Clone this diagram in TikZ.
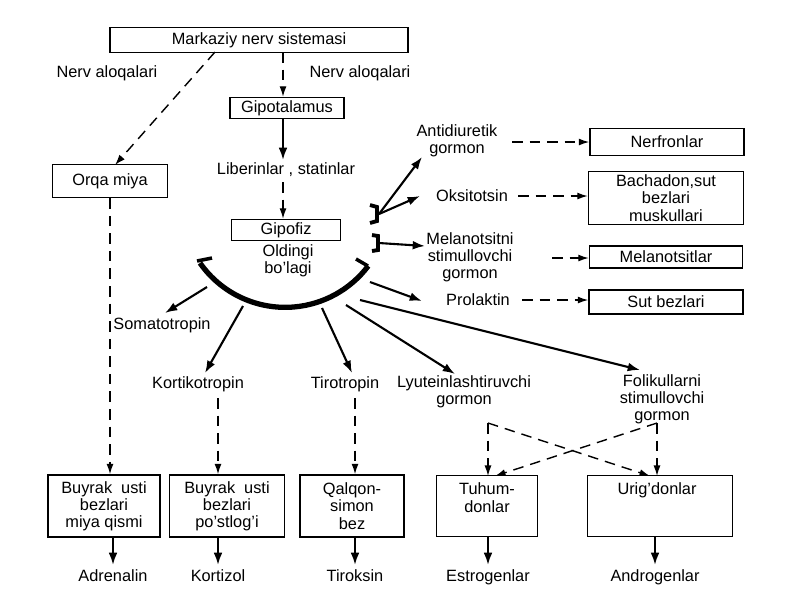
\documentclass[tikz,border=0pt]{standalone}
\usepackage{fontspec}
\setmainfont{Liberation Sans}
\usetikzlibrary{arrows.meta}
\begin{document}
\begin{tikzpicture}[x=0.02cm,y=-0.02cm,
  every node/.style={font=\fontsize{9.3}{9.8}\selectfont, align=center, inner sep=1pt},
  box/.style={draw, line width=0.8pt, inner sep=0pt},
  sarr/.style={line width=1.2pt, -{Latex[length=7pt,width=5pt]}},
  darr/.style={line width=0.8pt, dash pattern=on 6pt off 4pt, -{Latex[length=6pt,width=4pt]}},
  dline/.style={line width=0.8pt, dash pattern=on 6pt off 4pt}]
\useasboundingbox (0,0) rectangle (800,600);
% boxes
\node[box, minimum width=298*0.02cm, minimum height=25*0.02cm] (mns) at (259,40) {Markaziy nerv sistemasi};
\node[box, minimum width=115*0.02cm, minimum height=33*0.02cm] (orqa) at (110,181) {Orqa miya};
\node[box, minimum width=114*0.02cm, minimum height=21*0.02cm] (gipot) at (287,108) {Gipotalamus};
\node[box, minimum width=109*0.02cm, minimum height=21*0.02cm] (gipof) at (286,230) {Gipofiz};
\node (olb) at (288,261) {Oldingi\\bo'lagi};
\node (lib) at (286,170) {Liberinlar , statinlar};
\node (na1) at (107,73) {Nerv aloqalari};
\node (na2) at (360,73) {Nerv aloqalari};
% right boxes
\node[box, minimum width=154*0.02cm, minimum height=27*0.02cm] (nef) at (667,142) {Nerfronlar};
\node[box, minimum width=155*0.02cm, minimum height=53*0.02cm] (bach) at (666,198) {Bachadon,sut\\bezlari\\muskullari};
\node[box, minimum width=153*0.02cm, minimum height=22*0.02cm] (mel) at (666,257) {Melanotsitlar};
\node[box, minimum width=154*0.02cm, minimum height=24*0.02cm] (sut) at (666,302) {Sut bezlari};
% right labels
\node (adg) at (457,141) {Antidiuretik\\gormon};
\node (oks) at (472,196) {Oksitotsin};
\node (msg) at (470,257) {Melanotsitni\\stimullovchi\\gormon};
\node (pro) at (478,300) {Prolaktin};
% lower labels
\node (som) at (162,325) {Somatotropin};
\node (kor) at (198,384) {Kortikotropin};
\node (tir) at (345,384) {Tirotropin};
\node (lyu) at (464,392) {Lyuteinlashtiruvchi\\gormon};
\node (fol) at (662,399) {Folikullarni\\stimullovchi\\gormon};
% bottom boxes
\node[box, minimum width=112*0.02cm, minimum height=62*0.02cm] (b1) at (104,506) {Buyrak\ \ usti\\bezlari\\miya qismi};
\node[box, minimum width=115*0.02cm, minimum height=62*0.02cm] (b2) at (227,506) {Buyrak\ \ usti\\bezlari\\po'stlog'i};
\node[box, minimum width=104*0.02cm, minimum height=62*0.02cm] (b3) at (352,506) {Qalqon-\\simon\\bez};
\node[box, minimum width=101*0.02cm, minimum height=61*0.02cm] (b4) at (487,506) {};
\node[anchor=north] at (487,481) {Tuhum-\\donlar};
\node[box, minimum width=145*0.02cm, minimum height=61*0.02cm] (b5) at (660,506) {};
\node[anchor=north] at (657,481) {Urig'donlar};
\node[anchor=base] (ad) at (113,581) {Adrenalin};
\node[anchor=base] (kz) at (218,581) {Kortizol};
\node[anchor=base] (tk) at (355,581) {Tiroksin};
\node[anchor=base] (es) at (488,581) {Estrogenlar};
\node[anchor=base] (an) at (655,581) {Androgenlar};
% top connectors
\draw[darr] (215,52) -- (115,165);
\draw[darr] (283,52) -- (gipot.north -| 283,0);
\draw[sarr] (gipot.south -| 283,0) -- (283,160);
\draw[darr] (283,182) -- (gipof.north -| 283,0);
% arc
\draw[line width=3pt] (200,263) arc[start angle=215, end angle=323, radius=2.08cm];
\draw[line width=2pt] (197,261) -- (212,258);
\draw[line width=2pt] (368,266) -- (356,259);
% brackets
\draw[line width=2.2pt] (370,205) -- (377,207) -- (377,221) -- (370,223);
\draw[line width=2.2pt] (372,235) -- (378,236) -- (378,250) -- (372,251);
\draw[sarr] (379,214) -- (422,157);
\draw[sarr] (379,214) -- (420,196);
\draw[sarr] (379,243) -- (425,246);
\draw[sarr] (370,282) -- (422,301);
% dashed to right boxes
\draw[darr] (512,142) -- (nef.west);
\draw[darr] (518,196) -- (bach.west |- 0,196);
\draw[darr] (552,258) -- (mel.west |- 0,258);
\draw[darr] (522,300) -- (sut.west |- 0,300);
% arc outputs
\draw[sarr] (207,287) -- (165,313);
\draw[sarr] (243,306) -- (205,373);
\draw[sarr] (322,308) -- (352,373);
\draw[sarr] (346,305) -- (455,374);
\draw[sarr] (360,300) -- (640,370);
% dashed downward
\draw[darr] (orqa.south -| 110,0) -- (b1.north -| 110,0);
\draw[darr] (218,398) -- (b2.north -| 218,0);
\draw[darr] (355,398) -- (b3.north -| 355,0);
\draw[darr] (488,423) -- (488,476);
\draw[darr] (488,423) -- (650,476);
\draw[darr] (657,423) -- (657,476);
\draw[darr] (657,423) -- (495,476);
% bottom outputs
\draw[sarr] (113,537) -- (113,565);
\draw[sarr] (218,537) -- (218,565);
\draw[sarr] (355,537) -- (355,565);
\draw[sarr] (488,537) -- (488,565);
\draw[sarr] (655,537) -- (655,565);
\end{tikzpicture}
\end{document}
